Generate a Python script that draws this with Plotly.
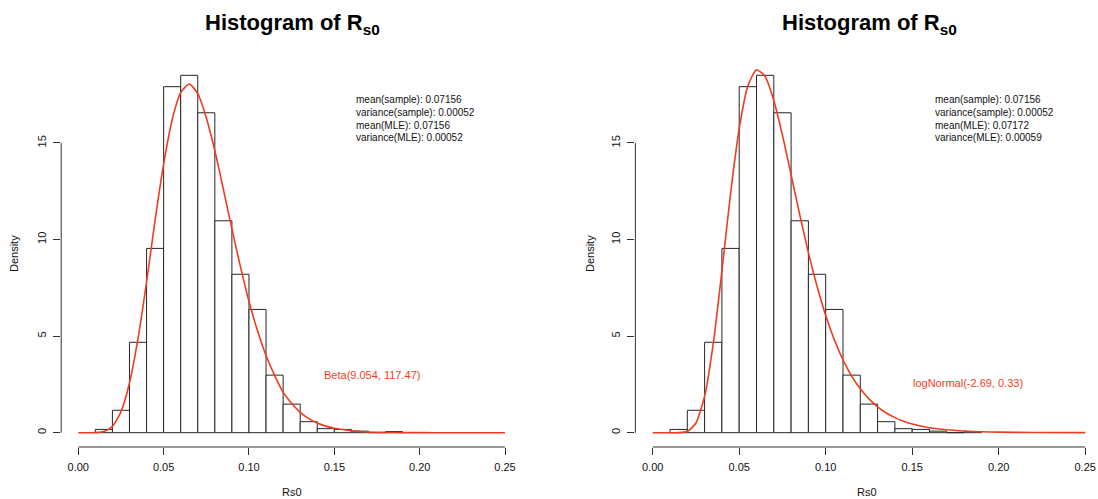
import plotly.graph_objects as go

# ---------------- data ----------------
bin_edges = [0.01, 0.02, 0.03, 0.04, 0.05, 0.06, 0.07, 0.08, 0.09, 0.10,
             0.11, 0.12, 0.13, 0.14, 0.15, 0.16, 0.17, 0.18, 0.19]
density = [0.17, 1.16, 4.68, 9.54, 17.91, 18.5, 16.56, 10.97, 8.2, 6.38,
           2.98, 1.48, 0.57, 0.21, 0.17, 0.08, 0.0, 0.06]

curve_x = [0.0, 0.005, 0.01, 0.015, 0.02, 0.025, 0.03, 0.035, 0.04, 0.045,
           0.05, 0.055, 0.06, 0.065, 0.07, 0.075, 0.08, 0.085, 0.09, 0.095,
           0.10, 0.105, 0.11, 0.115, 0.12, 0.125, 0.13, 0.135, 0.14, 0.145,
           0.15, 0.16, 0.17, 0.18, 0.19, 0.20, 0.22, 0.25]
beta_y = [0.0, 0.0, 0.004, 0.06, 0.33, 1.08, 2.57, 4.88, 7.8, 11.0,
          13.9, 16.2, 17.6, 18.05, 17.55, 16.3, 14.6, 12.6, 10.55, 8.6,
          6.8, 5.28, 4.0, 2.97, 2.1, 1.52, 1.05, 0.73, 0.5, 0.34,
          0.23, 0.1, 0.04, 0.015, 0.006, 0.002, 0.0, 0.0]
lnorm_y = [0.0, 0.0, 0.0, 0.002, 0.064, 0.5, 1.89, 4.61, 8.37, 12.37,
           15.74, 17.94, 18.79, 18.44, 17.2, 15.4, 13.35, 11.28, 9.32, 7.58,
           6.07, 4.81, 3.77, 2.93, 2.27, 1.75, 1.34, 1.02, 0.78, 0.59,
           0.45, 0.26, 0.15, 0.085, 0.049, 0.028, 0.01, 0.002]

x_ticks = [0.00, 0.05, 0.10, 0.15, 0.20, 0.25]
x_ticktext = ["0.00", "0.05", "0.10", "0.15", "0.20", "0.25"]
y_ticks = [0, 5, 10, 15]
y_ticktext = ["0", "5", "10", "15"]

title_text = "<b>Histogram of R<sub>s0</sub></b>"
xlab = "Rs0"
ylab = "Density"
stats_left = ["mean(sample): 0.07156", "variance(sample): 0.00052",
              "mean(MLE): 0.07156", "variance(MLE): 0.00052"]
stats_right = ["mean(sample): 0.07156", "variance(sample): 0.00052",
               "mean(MLE): 0.07172", "variance(MLE): 0.00059"]
fit_left = "Beta(9.054, 117.47)"
fit_right = "logNormal(-2.69, 0.33)"

# ---------------- style ----------------
# body margin is removed in the page (post_script), so figure px == screen px
OFF = 0
W, H = 1098, 499
RED = "#ee3d1e"
FONT = "Liberation Sans, Arial, sans-serif"
BAR_LINE = "#262626"

centers = [(bin_edges[i] + bin_edges[i + 1]) / 2 for i in range(len(density))]
widths = [bin_edges[i + 1] - bin_edges[i] for i in range(len(density))]

fig = go.Figure()

panels = [
    dict(xa="x", ya="y", curve=beta_y, stats=stats_left, fit=fit_left,
         fitpos=(0.172, 2.99), statx=0.1615),
    dict(xa="x2", ya="y2", curve=lnorm_y, stats=stats_right, fit=fit_right,
         fitpos=(0.1823, 2.59), statx=0.1618),
]

for p in panels:
    fig.add_trace(go.Bar(
        x=centers, y=density, width=widths, xaxis=p["xa"], yaxis=p["ya"],
        marker=dict(color="white", line=dict(color=BAR_LINE, width=1)),
        showlegend=False, hoverinfo="skip"))
    fig.add_trace(go.Scatter(
        x=curve_x, y=p["curve"], xaxis=p["xa"], yaxis=p["ya"], mode="lines",
        line=dict(color=RED, width=1.6, shape="spline", smoothing=0.6),
        showlegend=False, hoverinfo="skip"))


def px2paper_x(px):
    return (px - OFF) / W


def px2paper_y(py):
    return 1 - (py - OFF) / H


y_dom = [px2paper_y(447.0), px2paper_y(61.0)]
y_range = [-0.74, 19.24]

axis_common = dict(showgrid=False, zeroline=False, showline=False,
                   ticks="outside", ticklen=7, tickcolor="#333", tickwidth=1,
                   ticklabeloverflow="allow",
                   tickfont=dict(family=FONT, size=11, color="#111"))

fig.update_layout(
    width=W, height=H, margin=dict(l=0, r=0, t=0, b=0),
    paper_bgcolor="white", plot_bgcolor="white", bargap=0,
    xaxis=dict(domain=[px2paper_x(61.2), px2paper_x(522.1)], range=[-0.01, 0.26],
               anchor="y", tickvals=x_ticks, ticktext=x_ticktext,
               ticklabelstandoff=3, **axis_common),
    yaxis=dict(domain=y_dom, range=y_range, anchor="x",
               tickvals=y_ticks, ticktext=y_ticktext, tickangle=-90,
               ticklabelstandoff=3, **axis_common),
    xaxis2=dict(domain=[px2paper_x(635.4), 1.0], range=[-0.01, 0.2574],
                anchor="y2", tickvals=x_ticks, ticktext=x_ticktext,
                ticklabelstandoff=3, **axis_common),
    yaxis2=dict(domain=y_dom, range=y_range, anchor="x2",
                tickvals=y_ticks, ticktext=y_ticktext, tickangle=-90,
                ticklabelstandoff=3, **axis_common),
)

shapes = []
annotations = []
title_x = [292.5, 869.0]
ylab_x = [14.0, 590.0]
xlab_y = 492.0
for i, p in enumerate(panels):
    xa, ya = p["xa"], p["ya"]
    shapes.append(dict(type="line", xref=xa, yref=f"{ya} domain",
                       x0=x_ticks[0], x1=x_ticks[-1], y0=0, y1=0,
                       line=dict(color="#333", width=1)))
    shapes.append(dict(type="line", xref=f"{xa} domain", yref=ya,
                       x0=0, x1=0, y0=y_ticks[0], y1=y_ticks[-1],
                       line=dict(color="#333", width=1)))
    annotations.append(dict(text=title_text, xref="paper", yref="paper",
                            x=px2paper_x(title_x[i]), y=px2paper_y(24),
                            xanchor="center", yanchor="middle", showarrow=False,
                            font=dict(family=FONT, size=22, color="#000")))
    annotations.append(dict(text=xlab, xref=f"{xa} domain", yref="paper",
                            x=0.5, y=px2paper_y(xlab_y), xanchor="center",
                            yanchor="middle", showarrow=False,
                            font=dict(family=FONT, size=11, color="#111")))
    annotations.append(dict(text=ylab, xref="paper", yref=f"{ya} domain",
                            x=px2paper_x(ylab_x[i]), y=0.5, xanchor="center",
                            yanchor="middle", textangle=-90, showarrow=False,
                            font=dict(family=FONT, size=11, color="#111")))
    for k, line in enumerate(p["stats"]):
        annotations.append(dict(text=line, xref=xa, yref="paper",
                                x=p["statx"], y=px2paper_y(100 + 12.6 * k),
                                xanchor="left", yanchor="middle", showarrow=False,
                                font=dict(family=FONT, size=10, color="#111")))
    annotations.append(dict(text=p["fit"], xref=xa, yref=ya,
                            x=p["fitpos"][0], y=p["fitpos"][1],
                            xanchor="center", yanchor="middle", showarrow=False,
                            font=dict(family=FONT, size=11, color=RED)))

fig.update_layout(shapes=shapes, annotations=annotations)
fig.write_html(
    "out.html",
    config={"displayModeBar": False, "staticPlot": True},
    post_script="document.body.style.margin='0';"
                "document.body.style.overflow='hidden';",
)
